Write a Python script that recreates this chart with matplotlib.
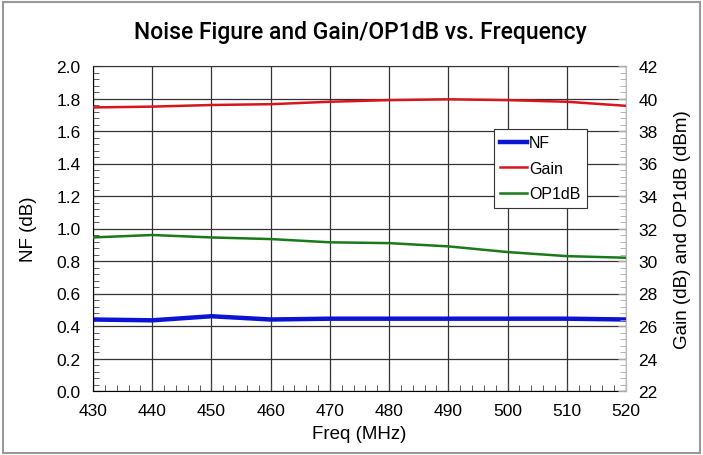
import matplotlib.pyplot as plt
from matplotlib.ticker import MultipleLocator
import numpy as np

freq = [430, 440, 450, 460, 470, 480, 490, 500, 510, 520]
nf = [0.44, 0.435, 0.46, 0.44, 0.445, 0.445, 0.445, 0.445, 0.445, 0.44]
gain = [39.45, 39.5, 39.6, 39.65, 39.8, 39.9, 39.95, 39.9, 39.8, 39.55]
op1db = [31.45, 31.6, 31.45, 31.35, 31.15, 31.1, 30.9, 30.55, 30.3, 30.2]

plt.rcParams['font.family'] = ['Liberation Sans', 'DejaVu Sans']

fig = plt.figure(figsize=(7.03, 4.56), dpi=100)
ax = fig.add_axes([93/703, 1-392/456, 533/703, 325/456])
ax2 = ax.twinx()

l1, = ax.plot(freq, nf, color='#0a14d2', lw=3.2, label='NF')
l2, = ax2.plot(freq, gain, color='#d8141e', lw=1.8, label='Gain')
l3, = ax2.plot(freq, op1db, color='#1a7a1a', lw=1.8, label='OP1dB')

ax.set_xlim(430, 520)
ax.set_ylim(0, 2.0)
ax2.set_ylim(22, 42)
ax.xaxis.set_major_locator(MultipleLocator(10))
ax.xaxis.set_minor_locator(MultipleLocator(2))
ax.yaxis.set_major_locator(MultipleLocator(0.2))
ax.yaxis.set_minor_locator(MultipleLocator(0.04))
ax2.yaxis.set_major_locator(MultipleLocator(2))
ax2.yaxis.set_minor_locator(MultipleLocator(0.4))
ax.yaxis.set_major_formatter(plt.FormatStrFormatter('%.1f'))

ax.grid(True, which='major', color='#333333', lw=0.9)
ax.set_axisbelow(True)
ax.tick_params(which='both', direction='in', labelsize=12.5, color='#444444', pad=9)
ax.tick_params(which='major', length=6)
ax.tick_params(which='minor', length=4)
ax2.tick_params(which='both', direction='in', labelsize=12.5, color='#aaaaaa', pad=9)
ax2.tick_params(which='major', length=6)
ax2.tick_params(which='minor', length=4)
ax.spines['top'].set_color('#333333')
ax2.spines['top'].set_visible(False)
ax.spines['right'].set_visible(False)
ax2.spines['right'].set_color('#bbbbbb')
ax2.spines['left'].set_visible(False)
ax2.spines['bottom'].set_visible(False)

ax.set_xlabel('Freq (MHz)', fontsize=13.5, labelpad=5)
ax.set_ylabel('NF (dB)', fontsize=13.5, labelpad=14)
ax2.set_ylabel('Gain (dB) and OP1dB (dBm)', fontsize=13.5, labelpad=12)
fig.suptitle('Noise Figure and Gain/OP1dB vs. Frequency', fontsize=16.5, fontweight='medium',
             family=['Roboto', 'DejaVu Sans'], x=0.512, y=0.955)

leg = ax2.legend(handles=[l1, l2, l3], loc='upper left', bbox_to_anchor=(0.752, 0.806),
                 fancybox=False, edgecolor='#333333', framealpha=1, fontsize=11.5,
                 handlelength=1.7, handletextpad=0.1, borderpad=0.4, labelspacing=0.65,
                 borderaxespad=0)
leg.get_frame().set_linewidth(0.8)

fig.patches.append(plt.Rectangle((0.004, 0.004), 0.992, 0.99, transform=fig.transFigure,
                                 fill=False, edgecolor='#999999', lw=1.5))

fig.savefig('out.png', dpi=100)
